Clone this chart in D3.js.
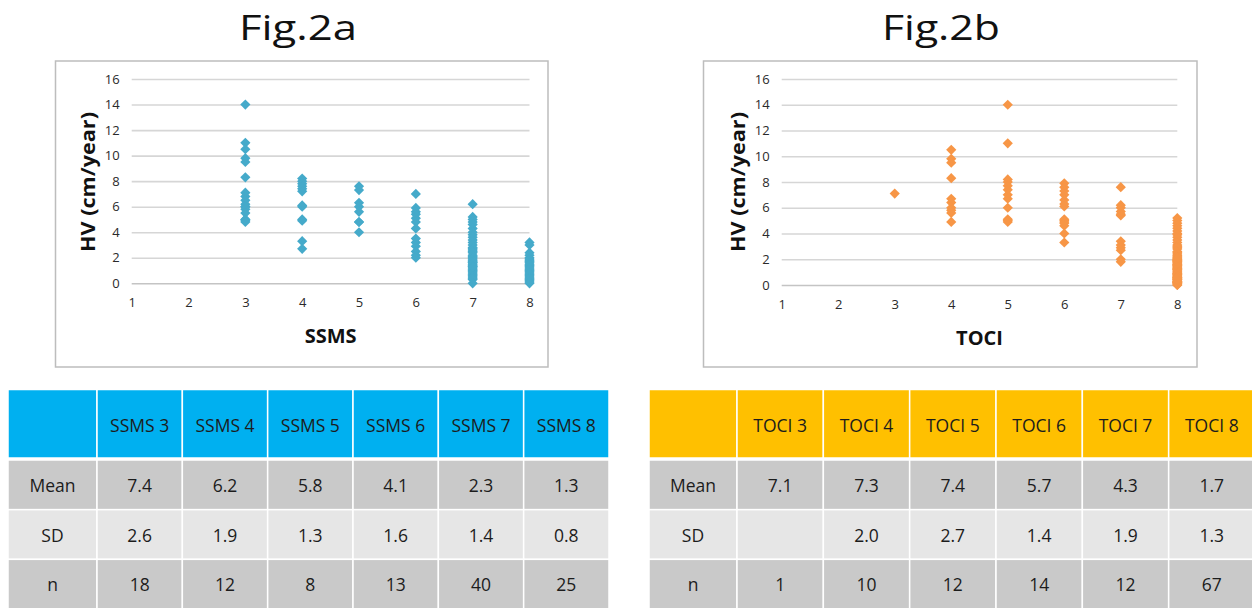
<!DOCTYPE html>
<html>
<head>
<meta charset="utf-8">
<script src="https://cdn.jsdelivr.net/npm/d3@7/dist/d3.min.js"></script>
<style>
  html, body { margin: 0; padding: 0; background: #fff; }
  svg { display: block; font-family: "Open Sans", "Liberation Sans", sans-serif; }
</style>
</head>
<body>
<svg id="fig" width="1252" height="608"></svg>
<script>
// ---- data ---------------------------------------------------------------
const xTicks = [1, 2, 3, 4, 5, 6, 7, 8];
const yTicks = [0, 2, 4, 6, 8, 10, 12, 14, 16];

// Fig.2a : height velocity by SSMS score
const ssmsScores = [3, 4, 5, 6, 7, 8];
const ssmsHV3 = [14.0, 11.0, 10.5, 9.8, 9.5, 8.3, 7.1, 6.8, 6.5, 6.2, 6.0, 6.0, 5.8, 5.5, 5.0, 5.0, 4.9, 4.8];
const ssmsHV4 = [8.2, 8.0, 7.8, 7.6, 7.4, 7.2, 6.1, 6.0, 5.0, 4.9, 3.3, 2.7];
const ssmsHV5 = [7.6, 7.3, 6.3, 6.0, 5.6, 4.8, 4.8, 4.0];
const ssmsHV6 = [7.0, 5.9, 5.6, 5.4, 5.1, 4.8, 4.3, 3.5, 3.2, 2.9, 2.5, 2.2, 2.0];
const ssmsHV7 = [6.2, 5.2, 5.0, 4.8, 4.6, 4.3, 4.0, 3.8, 3.6, 3.4, 3.2, 3.0, 2.8, 2.7, 2.6, 2.5, 2.4, 2.2, 2.1, 2.0,
                 1.9, 1.8, 1.7, 1.6, 1.5, 1.4, 1.3, 1.2, 1.1, 1.0, 0.9, 0.8, 0.7, 0.6, 0.5, 0.4, 0.3, 1.6, 1.3, 0.0];
const ssmsHV8 = [3.2, 3.0, 2.4, 2.2, 2.0, 1.9, 1.8, 1.7, 1.6, 1.5, 1.4, 1.3, 1.2, 1.1, 1.0, 0.9, 0.8, 0.7, 0.6, 0.5,
                 0.4, 0.3, 0.2, 0.1, 0.0];
const ssmsHV = [ssmsHV3, ssmsHV4, ssmsHV5, ssmsHV6, ssmsHV7, ssmsHV8];

const ssmsColumns = ["SSMS 3", "SSMS 4", "SSMS 5", "SSMS 6", "SSMS 7", "SSMS 8"];
const ssmsMean = ["7.4", "6.2", "5.8", "4.1", "2.3", "1.3"];
const ssmsSD   = ["2.6", "1.9", "1.3", "1.6", "1.4", "0.8"];
const ssmsN    = ["18", "12", "8", "13", "40", "25"];

// Fig.2b : height velocity by TOCI score
const tociScores = [3, 4, 5, 6, 7, 8];
const tociHV3 = [7.1];
const tociHV4 = [10.5, 9.8, 9.5, 8.3, 6.7, 6.4, 6.0, 5.8, 5.6, 4.9];
const tociHV5 = [14.0, 11.0, 8.2, 8.0, 7.7, 7.4, 7.0, 6.7, 6.0, 5.1, 5.0, 4.9];
const tociHV6 = [7.9, 7.6, 7.3, 7.0, 6.6, 6.3, 6.1, 5.1, 5.0, 4.9, 4.8, 4.6, 4.0, 3.3];
const tociHV7 = [7.6, 6.2, 6.0, 5.7, 5.5, 5.4, 3.4, 3.1, 2.9, 2.7, 2.0, 1.8];
const tociHV8 = [5.2, 5.0, 4.8, 4.6, 4.4, 4.2, 4.0, 3.9, 3.7, 3.5, 3.3, 3.1, 3.0, 2.9, 2.8, 2.6, 2.5, 2.4, 2.3, 2.2,
                 2.1, 2.0, 2.0, 1.9, 1.8, 1.8, 1.7, 1.6, 1.5, 1.5, 1.4, 1.3, 1.3, 1.2, 1.1, 1.0, 1.0, 0.9, 0.9, 0.8,
                 0.8, 0.7, 0.7, 0.6, 0.6, 0.5, 0.5, 0.4, 0.4, 0.3, 0.3, 0.2, 0.2, 0.1, 0.1, 0.0, 0.0, 1.2, 1.4, 1.6,
                 1.7, 1.9, 2.1, 0.2, 0.3, 0.6, 0.4];
const tociHV = [tociHV3, tociHV4, tociHV5, tociHV6, tociHV7, tociHV8];

const tociColumns = ["TOCI 3", "TOCI 4", "TOCI 5", "TOCI 6", "TOCI 7", "TOCI 8"];
const tociMean = ["7.1", "7.3", "7.4", "5.7", "4.3", "1.7"];
const tociSD   = ["", "2.0", "2.7", "1.4", "1.9", "1.3"];
const tociN    = ["1", "10", "12", "14", "12", "67"];

const rowLabels = ["Mean", "SD", "n"];

// ---- layout ---------------------------------------------------------------
const svg = d3.select("#fig");

const panels = [
  {
    title: "Fig.2a", titleX: 298,
    frame: { x: 55.5, y: 61, w: 492.5, h: 306 },
    plot: { left: 131.7, right: 529.5, top: 79, bottom: 283.3 },
    xTitle: "SSMS", xTitleY: 335, xTickY: 305,
    yTitleX: 87, yTitleY: 182,
    color: "#45AACA",
    scores: ssmsScores, values: ssmsHV,
    table: { left: 8, first: 97, right: 609, header: "#00B0F0",
             columns: ssmsColumns, rows: [ssmsMean, ssmsSD, ssmsN] }
  },
  {
    title: "Fig.2b", titleX: 941,
    frame: { x: 703.5, y: 61, w: 493.5, h: 306 },
    plot: { left: 781.7, right: 1177.3, top: 79, bottom: 285 },
    xTitle: "TOCI", xTitleY: 337, xTickY: 307,
    yTitleX: 737, yTitleY: 182,
    color: "#F79646",
    scores: tociScores, values: tociHV,
    table: { left: 649, first: 737, right: 1255, header: "#FFC000",
             columns: tociColumns, rows: [tociMean, tociSD, tociN] }
  }
];

const marker = d3.symbol().type(d3.symbolSquare).size(52);
const ink = "#1c1c1c";

panels.forEach(p => {
  // title
  svg.append("text")
    .attr("x", p.titleX).attr("y", 39.5)
    .attr("text-anchor", "middle")
    .attr("font-size", 35)
    .attr("textLength", 118).attr("lengthAdjust", "spacingAndGlyphs")
    .attr("fill", "#111")
    .text(p.title);

  // chart frame
  svg.append("rect")
    .attr("x", p.frame.x).attr("y", p.frame.y)
    .attr("width", p.frame.w).attr("height", p.frame.h)
    .attr("fill", "#fff").attr("stroke", "#BDBDBD").attr("stroke-width", 1.5);

  const x = d3.scaleLinear().domain([1, 8]).range([p.plot.left, p.plot.right]);
  const y = d3.scaleLinear().domain([0, 16]).range([p.plot.bottom, p.plot.top]);

  // horizontal gridlines + y tick labels
  const yAxis = svg.append("g")
    .attr("transform", `translate(${p.plot.left},0)`)
    .call(d3.axisLeft(y).tickValues(yTicks).tickFormat(d3.format("d"))
      .tickSize(-(p.plot.right - p.plot.left)).tickPadding(12));
  yAxis.select(".domain").remove();
  yAxis.selectAll(".tick line")
    .attr("stroke", d => d === 0 ? "#C4C4C4" : "#D6D6D6")
    .attr("stroke-width", 1.6);
  yAxis.selectAll(".tick text")
    .attr("font-size", 13).attr("fill", "#2a2a2a")
    .attr("font-family", "'Open Sans', sans-serif");

  // x tick labels
  const xAxis = svg.append("g")
    .attr("transform", `translate(0,${p.xTickY - 7})`)
    .call(d3.axisBottom(x).tickValues(xTicks).tickFormat(d3.format("d"))
      .tickSize(0).tickPadding(0));
  xAxis.select(".domain").remove();
  xAxis.selectAll(".tick text")
    .attr("font-size", 13).attr("fill", "#2a2a2a")
    .attr("font-family", "'Open Sans', sans-serif");

  // axis titles
  svg.append("text")
    .attr("x", (p.plot.left + p.plot.right) / 2).attr("y", p.xTitleY)
    .attr("text-anchor", "middle").attr("dominant-baseline", "central")
    .attr("font-size", 20).attr("font-weight", "bold").attr("fill", "#111")
    .text(p.xTitle);
  svg.append("text")
    .attr("transform", `translate(${p.yTitleX},${p.yTitleY}) rotate(-90)`)
    .attr("text-anchor", "middle").attr("dominant-baseline", "central")
    .attr("font-size", 20).attr("font-weight", "bold").attr("fill", "#111")
    .attr("textLength", 140).attr("lengthAdjust", "spacingAndGlyphs")
    .text("HV (cm/year)");

  // diamond markers, one group per score
  const points = p.scores.flatMap((s, i) => p.values[i].map(v => ({ s, v })));
  svg.append("g").selectAll("path")
    .data(points)
    .join("path")
    .attr("d", marker)
    .attr("transform", d => `translate(${x(d.s)},${y(d.v)}) rotate(45)`)
    .attr("fill", p.color);

  // summary table
  const t = p.table;
  const col = d3.scaleBand().domain(t.columns).range([t.first, t.right]);
  const row = d3.scaleBand().domain(rowLabels).range([460, 609]);
  const headTop = 389.5, headBottom = 458;
  const rowFill = { Mean: "#C9C9C9", SD: "#E6E6E6", n: "#C9C9C9" };
  const tg = svg.append("g");

  // header row
  tg.append("rect")
    .attr("x", t.left).attr("y", headTop)
    .attr("width", t.first - t.left).attr("height", headBottom - headTop)
    .attr("fill", t.header).attr("stroke", "#fff").attr("stroke-width", 1.5);
  tg.selectAll(".hcell").data(t.columns).join("rect")
    .attr("x", d => col(d)).attr("y", headTop)
    .attr("width", col.bandwidth()).attr("height", headBottom - headTop)
    .attr("fill", t.header).attr("stroke", "#fff").attr("stroke-width", 1.5);
  tg.selectAll(".htext").data(t.columns).join("text")
    .attr("x", d => col(d) + col.bandwidth() / 2).attr("y", (headTop + headBottom) / 2 + 1)
    .attr("text-anchor", "middle").attr("dominant-baseline", "central")
    .attr("font-size", 17.5).attr("fill", ink)
    .text(d => d);

  // body rows
  rowLabels.forEach((r, ri) => {
    const ry = row(r), rh = row.bandwidth();
    tg.append("rect")
      .attr("x", t.left).attr("y", ry)
      .attr("width", t.first - t.left).attr("height", rh)
      .attr("fill", rowFill[r]).attr("stroke", "#fff").attr("stroke-width", 1.5);
    tg.append("text")
      .attr("x", (t.left + t.first) / 2).attr("y", ry + rh / 2)
      .attr("text-anchor", "middle").attr("dominant-baseline", "central")
      .attr("font-size", 17.5).attr("fill", ink)
      .text(r);
    t.columns.forEach((c, ci) => {
      tg.append("rect")
        .attr("x", col(c)).attr("y", ry)
        .attr("width", col.bandwidth()).attr("height", rh)
        .attr("fill", rowFill[r]).attr("stroke", "#fff").attr("stroke-width", 1.5);
      tg.append("text")
        .attr("x", col(c) + col.bandwidth() / 2).attr("y", ry + rh / 2)
        .attr("text-anchor", "middle").attr("dominant-baseline", "central")
        .attr("font-size", 17.5).attr("fill", ink)
        .text(t.rows[ri][ci]);
    });
  });
});
</script>
</body>
</html>
